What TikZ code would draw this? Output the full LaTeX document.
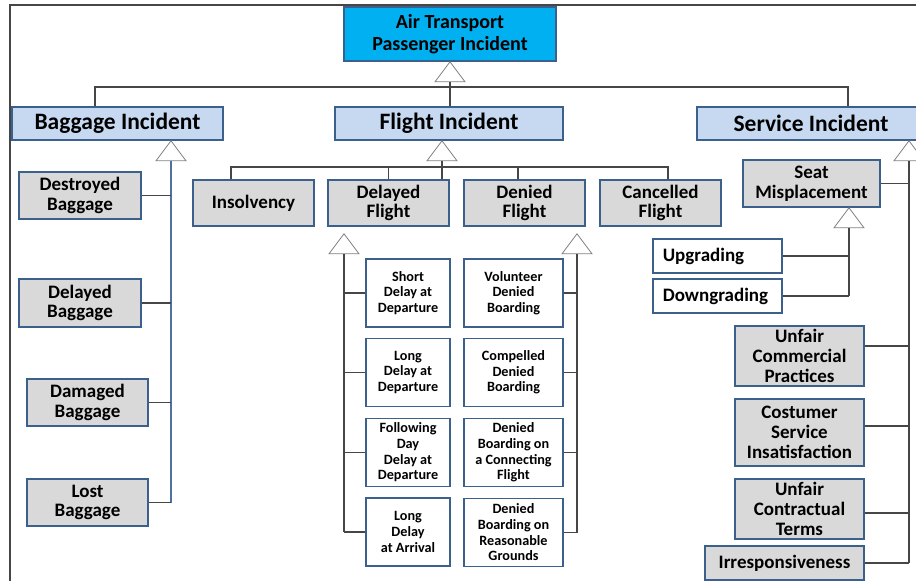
\documentclass[tikz,border=0pt]{standalone}
\usepackage{fontspec}
\setmainfont{Carlito}
\usepackage{tikz}
\usepackage{xcolor}
\usetikzlibrary{positioning}

\definecolor{rootcyan}{RGB}{0,176,240}
\definecolor{catblue}{RGB}{198,217,241}
\definecolor{boxblue}{RGB}{60,96,140}
\definecolor{leafgray}{RGB}{217,217,217}
\definecolor{linegray}{RGB}{70,70,70}
\definecolor{trigray}{RGB}{130,130,130}
\definecolor{spineblue}{RGB}{80,112,160}

\tikzset{
  box/.style={draw=boxblue, line width=1.6pt, align=center, inner sep=1pt},
  rootbox/.style={box, fill=rootcyan, minimum width=212pt, minimum height=54pt, font=\bfseries\fontsize{20}{21.5}\selectfont},
  catbox/.style={box, fill=catblue, minimum height=33pt, font=\bfseries\fontsize{23.5}{24}\selectfont},
  graybox/.style={box, fill=leafgray, font=\bfseries\fontsize{19}{19.8}\selectfont},
  whitebox/.style={box, fill=white, font=\bfseries\fontsize{19}{19.8}\selectfont},
  leafbox/.style={box, fill=white, minimum height=68pt, font=\bfseries\fontsize{14.2}{15.7}\selectfont},
  conn/.style={draw=linegray, line width=1.3pt},
  triline/.style={draw=trigray, fill=white, line width=0.8pt},
}

% hollow triangle below a box, #2 names the middle of its base
\newcommand\gentri[2]{%
  \coordinate (#2apex) at (#1);
  \draw[triline] (#2apex) -- ++(-15,20) -- ++(30,0) -- cycle;
  \coordinate (#2) at ([yshift=-20pt]#2apex);}

\begin{document}
\begin{tikzpicture}[x=1pt, y=-1pt]
  \useasboundingbox (0,0) rectangle (916,581);
  \draw[linegray, line width=1.5pt] (930,5) -- (10,5) -- (10,595); % frame

  % top level
  \node[rootbox] (root) at (450,34) {Air Transport\\Passenger Incident};
  \node[catbox, minimum width=211pt] (bag) at (117.5,123.5) {Baggage Incident};
  \node[catbox, minimum width=228pt] (flt) at (449,123.5) {Flight Incident};
  \node[catbox, minimum width=228pt] (srv) at (811,123.5) {Service Incident};

  \gentri{root.south}{rootT}
  \coordinate (barL) at (95,87);
  \coordinate (barR) at (848,87);
  \draw[conn] (barL |- bag.north) -- (barL) -- (barR) -- (barR |- srv.north);
  \draw[conn] (rootT) -- (rootT |- flt.north);

  % baggage branch
  \node[graybox, minimum width=122pt, minimum height=47pt] (dst) at (80,195.5) {Destroyed\\Baggage};
  \node[graybox, minimum width=122pt, minimum height=48pt] (dlb) at (80,303) {Delayed\\Baggage};
  \node[graybox, minimum width=121pt, minimum height=47pt] (dmg) at (87.5,402.5) {Damaged\\Baggage};
  \node[graybox, minimum width=121pt, minimum height=47pt] (lst) at (87.5,502.5) {Lost\\Baggage};
  \gentri{[xshift=53.5pt]bag.south}{bagT}
  \draw[spineblue, line width=1.3pt] (bagT) -- (bagT |- lst.east);
  \foreach \n in {dst,dlb,dmg,lst}
    {\draw[conn] (\n.east) -- (bagT |- \n.east);}

  % flight branch
  \node[graybox, minimum width=121pt, minimum height=46pt] (ins) at (253.5,203) {Insolvency};
  \node[graybox, minimum width=121pt, minimum height=46pt] (dlf) at (388.5,203) {Delayed\\Flight};
  \node[graybox, minimum width=121pt, minimum height=46pt] (dnf) at (524.5,203) {Denied\\Flight};
  \node[graybox, minimum width=121pt, minimum height=46pt] (cnf) at (660.5,203) {Cancelled\\Flight};
  \gentri{[xshift=-7pt]flt.south}{fltT}
  \coordinate (fbarL) at (231,167);
  \coordinate (fbarR) at (668,167);
  \draw[conn] (fbarL |- ins.north) -- (fbarL) -- (fbarR) -- (fbarR |- cnf.north);
  \draw[conn] (fltT) -- (fltT |- dlf.north);
  \draw[conn] (dlf.north |- fbarL) -- (dlf.north);
  \draw[conn] ([xshift=-6.5pt]dnf.north |- fbarL) -- ([xshift=-6.5pt]dnf.north);

  % delayed flight leaves
  \node[leafbox, minimum width=84pt] (sdd) at (408,293) {Short\\Delay at\\Departure};
  \node[leafbox, minimum width=84pt] (ldd) at (408,372.5) {Long\\Delay at\\Departure};
  \node[leafbox, minimum width=84pt] (fdd) at (408,452.5) {Following\\Day\\Delay at\\Departure};
  \node[leafbox, minimum width=84pt] (lda) at (408,532) {Long\\Delay\\at Arrival};
  \gentri{[xshift=-44.5pt,yshift=-7pt]dlf.south}{dlfT}
  \draw[conn] (dlfT) -- (dlfT |- lda.west);
  \foreach \n in {sdd,ldd,fdd,lda}
    {\draw[conn] (\n.west) -- (dlfT |- \n.west);}

  % denied flight leaves
  \node[leafbox, minimum width=99pt] (vdb) at (513.5,293) {Volunteer\\Denied\\Boarding};
  \node[leafbox, minimum width=99pt] (cdb) at (513.5,372.5) {Compelled\\Denied\\Boarding};
  \node[leafbox, minimum width=99pt] (dbc) at (513.5,452.5) {Denied\\Boarding on\\a Connecting\\Flight};
  \node[leafbox, minimum width=99pt] (dbr) at (513.5,532.5) {Denied\\Boarding on\\Reasonable\\Grounds};
  \gentri{[xshift=52.5pt,yshift=-7pt]dnf.south}{dnfT}
  \draw[conn] (dnfT) -- (dnfT |- dbr.east);
  \foreach \n in {vdb,cdb,dbc,dbr}
    {\draw[conn] (\n.east) -- (dnfT |- \n.east);}

  % service branch
  \node[graybox, minimum width=137pt, minimum height=47pt] (seat) at (811.5,183.5) {Seat\\Misplacement};
  \node[whitebox, minimum width=129pt, minimum height=34pt, anchor=west, inner xsep=10pt, text width=109pt, align=left] (upg) at (652,256) {Upgrading};
  \node[whitebox, minimum width=129pt, minimum height=34pt, anchor=west, inner xsep=10pt, text width=109pt, align=left] (dwn) at (652,296) {Downgrading};
  \node[graybox, minimum width=129pt, minimum height=60pt] (ucp) at (799.5,356) {Unfair\\Commercial\\Practices};
  \node[graybox, minimum width=129pt, minimum height=67pt] (csi) at (799.5,432.5) {Costumer\\Service\\Insatisfaction};
  \node[graybox, minimum width=129pt, minimum height=60pt] (uct) at (799.5,509) {Unfair\\Contractual\\Terms};
  \node[graybox, minimum width=159pt, minimum height=34pt] (irr) at (784.5,563) {Irresponsiveness};
  \gentri{[xshift=98pt]srv.south}{srvT}
  \coordinate (ucpC) at ([yshift=10pt]ucp.east);
  \coordinate (csiC) at ([yshift=6.5pt]csi.east);
  \coordinate (uctC) at ([yshift=-4pt]uct.east);
  \draw[conn] (srvT) -- (srvT |- irr.east);
  \draw[conn] (seat.east) -- (srvT |- seat.east);
  \foreach \n in {ucpC,csiC,uctC,irr.east}
    {\draw[conn] (\n) -- (srvT |- \n);}
  \gentri{[xshift=37.5pt]seat.south}{seatT}
  \draw[conn] (seatT) -- (seatT |- dwn.east);
  \foreach \n in {upg,dwn}
    {\draw[conn] (\n.east) -- (seatT |- \n.east);}
\end{tikzpicture}
\end{document}
